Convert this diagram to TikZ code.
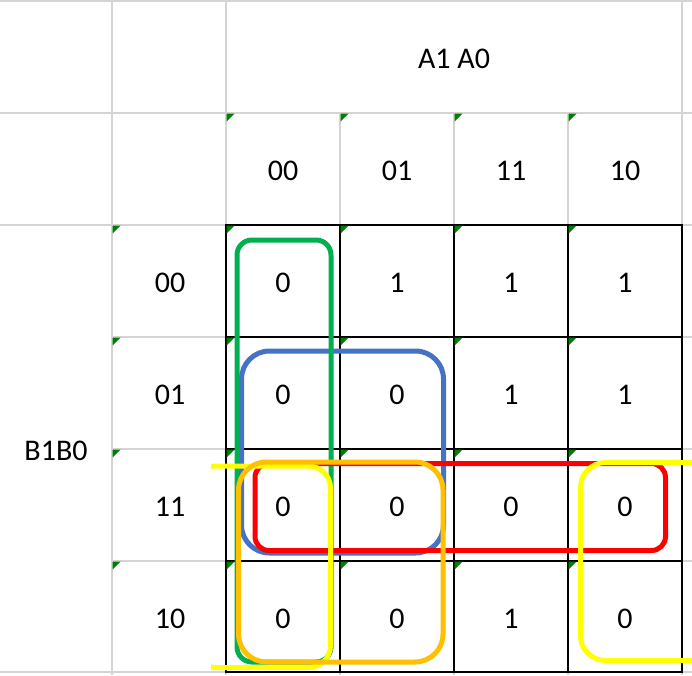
\documentclass[tikz,border=0pt]{standalone}
\usepackage{fontspec}
\setmainfont{Carlito}
\definecolor{gridgray}{HTML}{D4D4D4}
\definecolor{trigreen}{HTML}{008000}
\definecolor{kgreen}{HTML}{00B050}
\definecolor{kblue}{HTML}{4472C4}
\definecolor{kred}{HTML}{FF0000}
\definecolor{kyellow}{HTML}{FFFF00}
\definecolor{korange}{HTML}{FFC000}
\begin{document}
\begin{tikzpicture}[x=1pt,y=-1pt,
  lbl/.style={anchor=base,inner sep=0pt,font=\fontsize{30}{36}\selectfont},
  gline/.style={draw=gridgray,line width=1.1pt},
  bline/.style={draw=black,line width=1.2pt},
  ring/.style={line width=5pt}]
\useasboundingbox (0,0) rectangle (692,675);
\clip (0,0) rectangle (692,675);
\fill[white] (0,0) rectangle (692,675);
% gray grid
\foreach \y in {1,113,225,672} \draw[gline] (0,\y) -- (692,\y);
\foreach \y in {337,449,561} \draw[gline] (112,\y) -- (692,\y);
\foreach \x in {112,226,682} \draw[gline] (\x,0) -- (\x,675);
\foreach \x in {340,454,568} \draw[gline] (\x,113) -- (\x,675);
% black K-map grid
\foreach \x in {340,454,568} \draw[bline] (\x,225) -- (\x,672);
\foreach \y in {337,449,561} \draw[bline] (226,\y) -- (682,\y);
\draw[black,line width=2.3pt] (226,225) rectangle (682,672);
% green corner markers
\foreach \x in {226,340,454,568} \fill[trigreen] (\x+0.5,113.5) -- ++(8,0) -- ++(-8,8) -- cycle;
\foreach \y in {225,337,449,561}
  \foreach \x in {112,226,340,454,568}
    \fill[trigreen] (\x+0.5,\y+0.5) -- ++(8,0) -- ++(-8,8) -- cycle;
% labels
\node[lbl] (a1a0) at (454,68.5) {A1 A0};
\node[lbl] (b1b0) at (56,460) {B1B0};
\node[lbl] (h00) at (283,180.5) {00};
\node[lbl] (h01) at (397,180.5) {01};
\node[lbl] (h11) at (511,180.5) {11};
\node[lbl] (h10) at (625,180.5) {10};
\node[lbl] (r00) at (170,292.5) {00};
\node[lbl] (r01) at (170,404.5) {01};
\node[lbl] (r11) at (170,516.5) {11};
\node[lbl] (r10) at (170,628.5) {10};
% cell values
\node[lbl] (c11) at (283,292.5) {0};
\node[lbl] (c12) at (397,292.5) {1};
\node[lbl] (c13) at (511,292.5) {1};
\node[lbl] (c14) at (625,292.5) {1};
\node[lbl] (c21) at (283,404.5) {0};
\node[lbl] (c22) at (397,404.5) {0};
\node[lbl] (c23) at (511,404.5) {1};
\node[lbl] (c24) at (625,404.5) {1};
\node[lbl] (c31) at (283,516.5) {0};
\node[lbl] (c32) at (397,516.5) {0};
\node[lbl] (c33) at (511,516.5) {0};
\node[lbl] (c34) at (625,516.5) {0};
\node[lbl] (c41) at (283,628.5) {0};
\node[lbl] (c42) at (397,628.5) {0};
\node[lbl] (c43) at (511,628.5) {1};
\node[lbl] (c44) at (625,628.5) {0};
% groupings
\draw[ring,kblue,rounded corners=28pt] (241.5,351) rectangle (443.5,553);
\draw[ring,kgreen,rounded corners=15pt] (237,240) rectangle (331,662);
\draw[ring,kred,rounded corners=14pt] (255,463.5) rectangle (665.5,550.5);
\begin{scope}
  \clip (211,0) rectangle (692,675);
  \draw[ring,kyellow,rounded corners=22pt] (194,466) rectangle (330.5,667.5);
\end{scope}
\draw[ring,kyellow,rounded corners=25pt] (580.5,462.5) rectangle (714,660.5);
\draw[ring,korange,rounded corners=28pt] (238.5,462) rectangle (443,662);
\end{tikzpicture}
\end{document}
